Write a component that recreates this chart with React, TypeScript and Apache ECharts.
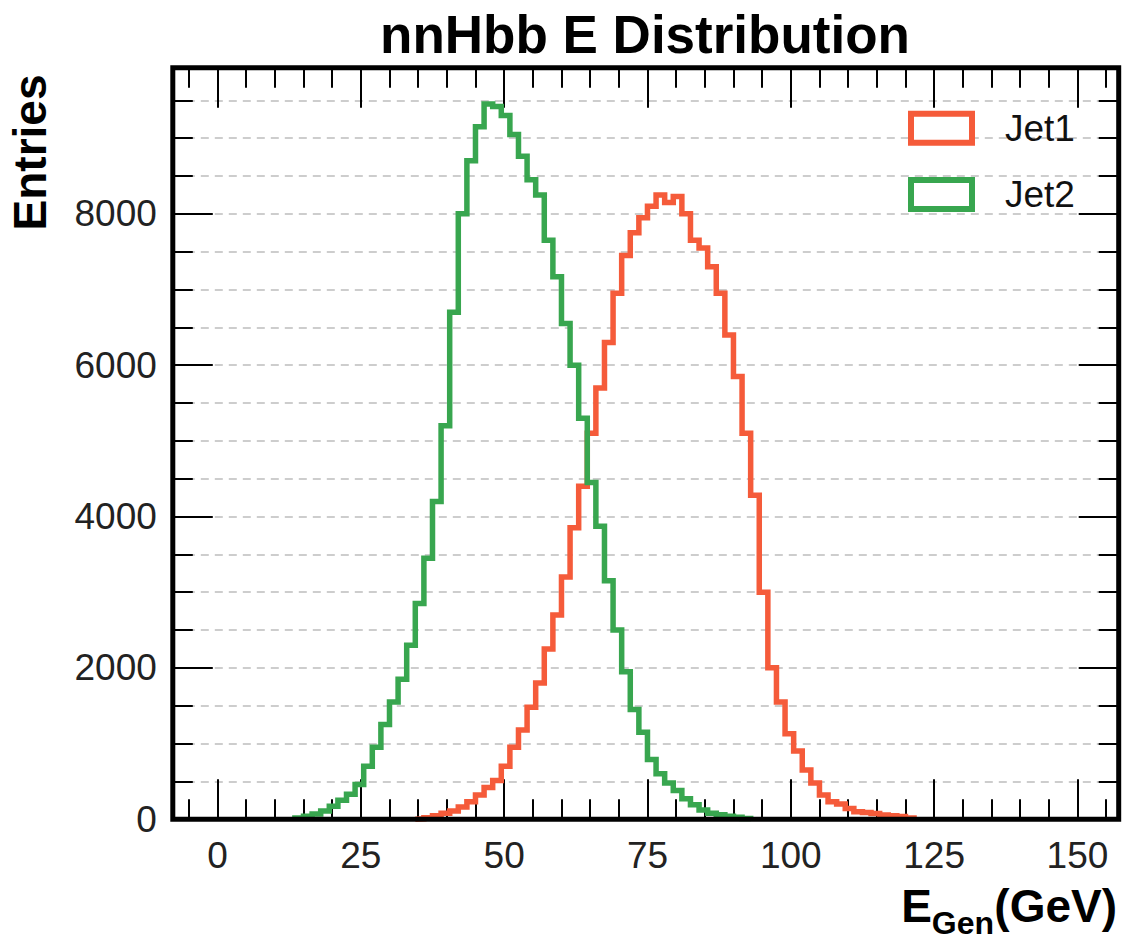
import React, { useEffect, useRef } from "react";
import * as echarts from "echarts";

const TITLE = "nnHbb E Distribution";
const Y_TITLE = "Entries";
const SERIES_NAMES = ["Jet1", "Jet2"];

// histogram binning (GeV)
const BIN_START = 12;
const BIN_WIDTH = 1.5;
const X_MIN = -7.8;
const X_MAX = 157.2;
const Y_MAX = 9930;

const xMajorTicks = [0, 25, 50, 75, 100, 125, 150];
const xMinorTicks = [
  -5, 0, 5, 10, 15, 20, 25, 30, 35, 40, 45, 50, 55, 60, 65, 70, 75, 80, 85, 90,
  95, 100, 105, 110, 115, 120, 125, 130, 135, 140, 145, 150, 155,
];

// entries per 1.5 GeV bin, starting at BIN_START
const jet1Counts = [
  0, 0, 0, 0, 0, 0, 0, 0, 0, 0,
  0, 0, 0, 0, 0, 5, 20, 45, 80, 110,
  160, 230, 320, 420, 510, 700, 950, 1180, 1480, 1800,
  2250, 2700, 3200, 3850, 4400, 5100, 5700, 6300, 6950, 7450,
  7750, 7950, 8100, 8250, 8150, 8230, 8000, 7650, 7550, 7300,
  6950, 6400, 5850, 5100, 4280, 3000, 2000, 1550, 1130, 900,
  650, 480, 320, 230, 200, 140, 100, 90, 75, 55,
  45, 35, 15, 0,
];

const jet2Counts = [
  0, 15, 40, 70, 110, 170, 250, 330, 460, 700,
  950, 1250, 1550, 1850, 2300, 2850, 3450, 4200, 5200, 6700,
  8000, 8700, 9150, 9450, 9420, 9300, 9050, 8760, 8450, 8250,
  7650, 7170, 6550, 6000, 5300, 4450, 3870, 3150, 2500, 1950,
  1450, 1150, 790, 600, 480, 380, 270, 190, 120, 80,
  60, 40, 25, 10, 0, 0, 0, 0, 0, 0,
  0, 0, 0, 0, 0, 0, 0, 0, 0, 0,
  0, 0, 0, 0,
];

const RED = "#f55b3a";
const GREEN = "#38a64f";
const FONT = "'Liberation Sans', Arial, Helvetica, sans-serif";

function stepPoints(counts: number[]): number[][] {
  let first = -1;
  let last = -1;
  counts.forEach((c, i) => {
    if (c > 0) {
      if (first < 0) first = i;
      last = i;
    }
  });
  const pts: number[][] = [];
  if (first < 0) return pts;
  const edge = (i: number) => BIN_START + i * BIN_WIDTH;
  pts.push([edge(first), 0]);
  for (let i = first; i <= last; i++) {
    pts.push([edge(i), counts[i]]);
    pts.push([edge(i + 1), counts[i]]);
  }
  pts.push([edge(last + 1), 0]);
  return pts;
}

const tickLine = { color: "#000", width: 2 };
const plain = (v: number) => String(v);

function xAxisDef(position: "top" | "bottom", major: boolean, labels: boolean) {
  return {
    type: "value",
    position,
    min: X_MIN,
    max: X_MAX,
    axisLine: { show: false, onZero: false },
    splitLine: { show: false },
    axisTick: {
      show: true,
      inside: true,
      length: major ? 40 : 20,
      customValues: major ? xMajorTicks : xMinorTicks,
      lineStyle: tickLine,
    },
    axisLabel: labels
      ? {
          show: true,
          customValues: xMajorTicks,
          formatter: plain,
          margin: 18,
          fontSize: 37,
          fontFamily: FONT,
          color: "#222",
        }
      : { show: false },
  };
}

function yAxisDef(position: "left" | "right", major: boolean, labels: boolean, grid: boolean) {
  return {
    type: "value",
    position,
    min: 0,
    max: Y_MAX,
    interval: major ? 2000 : 500,
    axisLine: { show: false, onZero: false },
    axisTick: {
      show: true,
      inside: true,
      length: major ? 40 : 20,
      lineStyle: tickLine,
    },
    axisLabel: labels
      ? {
          show: true,
          showMaxLabel: false,
          formatter: plain,
          margin: 16,
          fontSize: 37,
          fontFamily: FONT,
          color: "#222",
        }
      : { show: false },
    splitLine: grid
      ? {
          show: true,
          showMinLine: false,
          showMaxLine: false,
          lineStyle: { color: "#bdbdbd", width: 1.5, type: [8, 6] },
        }
      : { show: false },
  };
}

export default function App() {
  const ref = useRef<HTMLDivElement>(null);

  useEffect(() => {
    if (!ref.current) return;
    const chart = echarts.init(ref.current, undefined, { renderer: "svg" });
    const option: any = {
      animation: false,
      backgroundColor: "#ffffff",
      title: {
        text: TITLE,
        left: 645,
        top: 34.3,
        padding: 0,
        textAlign: "center",
        textVerticalAlign: "middle",
        textStyle: {
          fontSize: 53,
          fontWeight: "bold",
          fontFamily: FONT,
          color: "#000",
        },
      },
      legend: {
        orient: "vertical",
        left: 908,
        top: 109.7,
        padding: 0,
        itemWidth: 61,
        itemHeight: 29,
        itemGap: 29.3,
        selectedMode: false,
        textStyle: {
          fontSize: 37,
          fontFamily: FONT,
          color: "#111",
          lineHeight: 29,
          padding: [0, 0, 0, 28],
        },
        data: [
          {
            name: SERIES_NAMES[0],
            icon: "rect",
            itemStyle: { color: "#ffffff", borderColor: RED, borderWidth: 6 },
          },
          {
            name: SERIES_NAMES[1],
            icon: "rect",
            itemStyle: { color: "#ffffff", borderColor: GREEN, borderWidth: 6 },
          },
        ],
      },
      grid: {
        left: 172.8,
        right: 3.3,
        top: 67.8,
        bottom: 124.8,
        show: true,
        borderColor: "#000",
        borderWidth: 5,
        backgroundColor: "transparent",
        z: 10,
        containLabel: false,
        outerBoundsMode: "none",
      },
      xAxis: [
        xAxisDef("bottom", true, true),
        xAxisDef("bottom", false, false),
        xAxisDef("top", true, false),
        xAxisDef("top", false, false),
      ],
      yAxis: [
        yAxisDef("left", true, true, false),
        yAxisDef("left", false, false, true),
        yAxisDef("right", true, false, false),
        yAxisDef("right", false, false, false),
      ],
      graphic: [
        {
          type: "text",
          x: 30,
          y: 152.5,
          rotation: Math.PI / 2,
          style: {
            text: Y_TITLE,
            font: `bold 46px ${FONT}`,
            fill: "#000",
            textAlign: "center",
            textVerticalAlign: "middle",
          },
        },
        {
          type: "text",
          x: 1117,
          y: 906.4,
          style: {
            text: "(GeV)",
            font: `bold 46px ${FONT}`,
            fill: "#000",
            textAlign: "right",
            textVerticalAlign: "middle",
          },
        },
        {
          type: "text",
          x: 994,
          y: 923.3,
          style: {
            text: "Gen",
            font: `bold 32px ${FONT}`,
            fill: "#000",
            textAlign: "right",
            textVerticalAlign: "middle",
          },
        },
        {
          type: "text",
          x: 932,
          y: 906.4,
          style: {
            text: "E",
            font: `bold 46px ${FONT}`,
            fill: "#000",
            textAlign: "right",
            textVerticalAlign: "middle",
          },
        },
      ],
      series: [
        {
          name: SERIES_NAMES[0],
          type: "line",
          xAxisIndex: 0,
          yAxisIndex: 0,
          data: stepPoints(jet1Counts),
          showSymbol: false,
          symbol: "none",
          clip: true,
          lineStyle: { color: RED, width: 5.5, join: "miter" },
          itemStyle: { color: RED },
          z: 3,
        },
        {
          name: SERIES_NAMES[1],
          type: "line",
          xAxisIndex: 0,
          yAxisIndex: 0,
          data: stepPoints(jet2Counts),
          showSymbol: false,
          symbol: "none",
          clip: true,
          lineStyle: { color: GREEN, width: 5.5, join: "miter" },
          itemStyle: { color: GREEN },
          z: 4,
        },
      ],
    };
    chart.setOption(option);
    return () => {
      chart.dispose();
    };
  }, []);

  return (
    <div
      ref={ref}
      style={{
        position: "absolute",
        left: 0,
        top: 0,
        width: 1122,
        height: 944,
        background: "#fff",
      }}
    />
  );
}
